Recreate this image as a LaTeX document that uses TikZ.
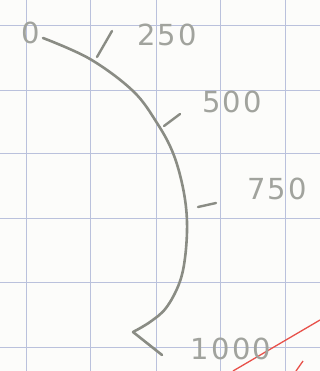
\documentclass[tikz,border=0pt]{standalone}
\usepackage{fontspec}
\setmainfont{DejaVu Sans}
\begin{document}
\begin{tikzpicture}[x=1pt,y=-1pt,
  gridline/.style={draw=gridblue,line width=0.8pt},
  pencil/.style={draw=pencilgray,line width=2.6pt,line cap=round},
  tickmark/.style={draw=pencilgray,line width=2.4pt,line cap=round},
  lbl/.style={text=pencilgray!80,font=\fontsize{29}{29}\selectfont\addfontfeatures{LetterSpace=8},inner sep=0pt},
  redline/.style={draw=redpen,line width=1.3pt}]
\definecolor{gridblue}{HTML}{BAC1DC}
\definecolor{pencilgray}{HTML}{8A8C84}
\definecolor{redpen}{HTML}{E8514A}
\definecolor{paper}{HTML}{FCFCFA}
\useasboundingbox[fill=paper] (0,0) rectangle (320,371);
% grid
\foreach \gx in {26,90,156,220,285} \draw[gridline] (\gx,0) -- (\gx,371);
\foreach \gy in {25,90,153,218,282,347} \draw[gridline] (0,\gy) -- (320,\gy);
% red pen marks
\coordinate (r1) at (233,371);
\coordinate (r2) at (320,320);
\coordinate (r3) at (296,371);
\coordinate (r4) at (303,361);
\draw[redline] (r1) -- (r2);
\draw[redline] (r3) -- (r4);
% curve
\coordinate (cend) at (133,332);
\coordinate (ctip) at (162,355);
\draw[pencil] plot[smooth,tension=0.6] coordinates {(43,38) (90,59) (133,91) (157,123) (173,153) (183,188) (187,222) (185,258) (179,284) (166,308) (150,322) (133,332)};
\draw[pencil] (cend) -- (ctip);
% ticks
\coordinate (t250a) at (97,57);
\coordinate (t250b) at (112,31);
\coordinate (t500a) at (164,126);
\coordinate (t500b) at (180,114);
\coordinate (t750a) at (198,207);
\coordinate (t750b) at (216,203);
\draw[tickmark] (t250a) -- (t250b);
\draw[tickmark] (t500a) -- (t500b);
\draw[tickmark] (t750a) -- (t750b);
% labels
\node[lbl] (l0) at (31,33) {0};
\node[lbl] (l250) at (167,35) {250};
\node[lbl] (l500) at (232,102) {500};
\node[lbl] (l750) at (277,189) {750};
\node[lbl] (l1000) at (231,349) {1000};
\end{tikzpicture}
\end{document}
